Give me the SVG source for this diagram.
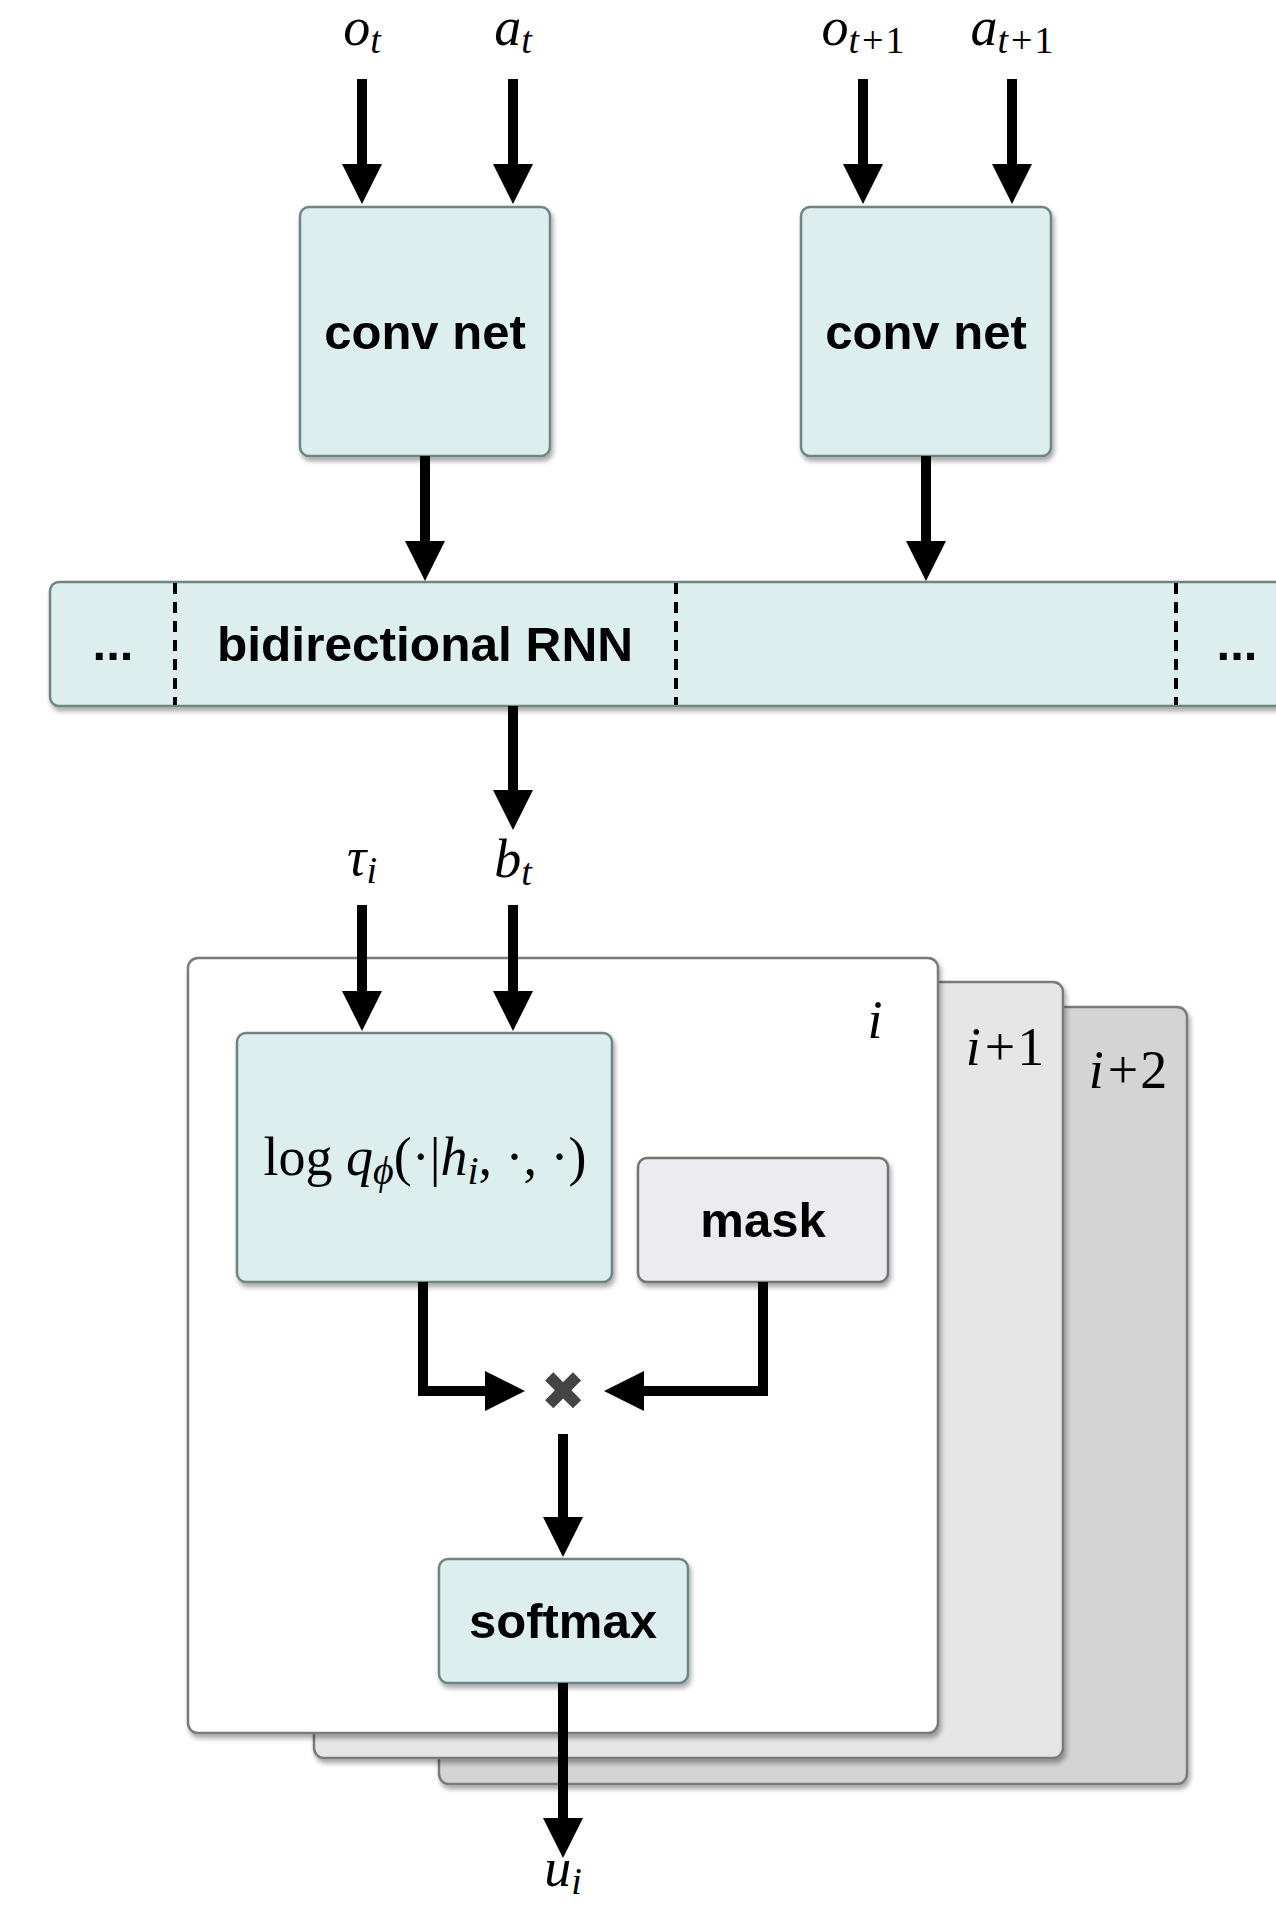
<svg xmlns="http://www.w3.org/2000/svg" width="1276" height="1905" viewBox="0 0 1276 1905">
<style>
.box{fill:#dcefee;stroke:#6f8583;stroke-width:2.5}
.maskbox{fill:#ebebf0;stroke:#6f7575;stroke-width:2.5}
.card{stroke:#7a7a7a;stroke-width:2.5}
.lbl{font-family:"Liberation Sans",Arial,sans-serif;font-weight:bold;font-size:49px;fill:#000;text-anchor:middle}
.math{font-family:"Liberation Serif","Times New Roman",serif;font-size:54px;fill:#000;text-anchor:middle}
.it{font-style:italic}
.conn{fill:none;stroke:#000;stroke-width:10;marker-end:url(#ah)}
.dash{stroke:#000;stroke-width:4;stroke-dasharray:11 8}
</style>
<defs>
<filter id="sh" x="-10%" y="-10%" width="125%" height="125%">
<feDropShadow dx="2" dy="4" stdDeviation="2.5" flood-color="#000" flood-opacity="0.35"/>
</filter>
<marker id="ah" viewBox="0 0 40 40" refX="2" refY="20" markerWidth="40" markerHeight="40" markerUnits="userSpaceOnUse" orient="auto">
<path d="M0,0 L40,20 L0,40 Z" fill="#000"/>
</marker>
</defs>

<g id="card-i2">
<rect class="card" x="439" y="1007" width="748" height="777" rx="10" fill="#d4d4d4" filter="url(#sh)"/>
<text class="math it" x="1128" y="1088">i<tspan font-style="normal" dx="4">+</tspan><tspan font-style="normal" dx="2">2</tspan></text>
</g>
<g id="card-i1">
<rect class="card" x="314" y="982" width="749" height="776" rx="10" fill="#e6e6e6" filter="url(#sh)"/>
<text class="math it" x="1005" y="1065">i<tspan font-style="normal" dx="4">+</tspan><tspan font-style="normal" dx="2">1</tspan></text>
</g>
<g id="card-i">
<rect class="card" x="188" y="958" width="750" height="775" rx="10" fill="#ffffff" filter="url(#sh)"/>
<text class="math it" x="875" y="1038">i</text>
</g>

<g id="labels">
<text class="math it" x="362" y="45">o<tspan font-size="38" dy="8">t</tspan></text>
<text class="math it" x="513" y="45">a<tspan font-size="38" dy="8">t</tspan></text>
<text class="math it" x="863" y="45">o<tspan font-size="38" dy="8">t<tspan font-style="normal" dx="3">+</tspan><tspan font-style="normal" dx="2">1</tspan></tspan></text>
<text class="math it" x="1012" y="45">a<tspan font-size="38" dy="8">t<tspan font-style="normal" dx="3">+</tspan><tspan font-style="normal" dx="2">1</tspan></tspan></text>
<text class="math it" x="362" y="875">τ<tspan font-size="38" dy="8">i</tspan></text>
<text class="math it" x="513" y="877">b<tspan font-size="38" dy="8">t</tspan></text>
<text class="math it" x="563" y="1886">u<tspan font-size="38" dy="8">i</tspan></text>
</g>

<g id="convnet1">
<rect class="box" x="300" y="207" width="250" height="249" rx="9" filter="url(#sh)"/>
<text class="lbl" x="425" y="349">conv net</text>
</g>
<g id="convnet2">
<rect class="box" x="801" y="207" width="250" height="249" rx="9" filter="url(#sh)"/>
<text class="lbl" x="926" y="349">conv net</text>
</g>

<g id="birnn">
<rect class="box" x="50" y="582" width="1260" height="124" rx="9" filter="url(#sh)"/>
<line class="dash" x1="175" y1="583" x2="175" y2="705"/>
<line class="dash" x1="676" y1="583" x2="676" y2="705"/>
<line class="dash" x1="1176" y1="583" x2="1176" y2="705"/>
<text class="lbl" x="113" y="660">...</text>
<text class="lbl" x="425" y="661" textLength="416" lengthAdjust="spacingAndGlyphs">bidirectional RNN</text>
<text class="lbl" x="1237" y="660">...</text>
</g>

<g id="logq">
<rect class="box" x="237" y="1033" width="375" height="249" rx="9" filter="url(#sh)"/>
<text class="math" x="425" y="1175" font-size="57">log <tspan font-style="italic">q</tspan><tspan font-style="italic" font-size="40" dy="9">ϕ</tspan><tspan dy="-9">(·|</tspan><tspan font-style="italic">h</tspan><tspan font-style="italic" font-size="40" dy="9">i</tspan><tspan dy="-9">, ·, ·)</tspan></text>
</g>

<g id="mask">
<rect class="maskbox" x="638" y="1158" width="250" height="124" rx="9" filter="url(#sh)"/>
<text class="lbl" x="763" y="1237">mask</text>
</g>

<g id="multiply">
<text x="563" y="1410" font-family="DejaVu Sans,sans-serif" font-size="54" fill="#444" text-anchor="middle">✖</text>
</g>

<g id="softmax">
<rect class="box" x="439" y="1559" width="249" height="124" rx="9" filter="url(#sh)"/>
<text class="lbl" x="563" y="1638">softmax</text>
</g>

<g id="connectors">
<path class="conn" d="M362,79 V166"/>
<path class="conn" d="M513,79 V166"/>
<path class="conn" d="M863,79 V166"/>
<path class="conn" d="M1012,79 V166"/>
<path class="conn" d="M425,456 V543"/>
<path class="conn" d="M926,456 V543"/>
<path class="conn" d="M513,706 V792"/>
<path class="conn" d="M362,905 V993"/>
<path class="conn" d="M513,905 V993"/>
<path class="conn" d="M423,1282 V1391 H487"/>
<path class="conn" d="M763,1282 V1391 H642"/>
<path class="conn" d="M563,1434 V1519"/>
<path class="conn" d="M563,1683 V1820"/>
</g>
</svg>
